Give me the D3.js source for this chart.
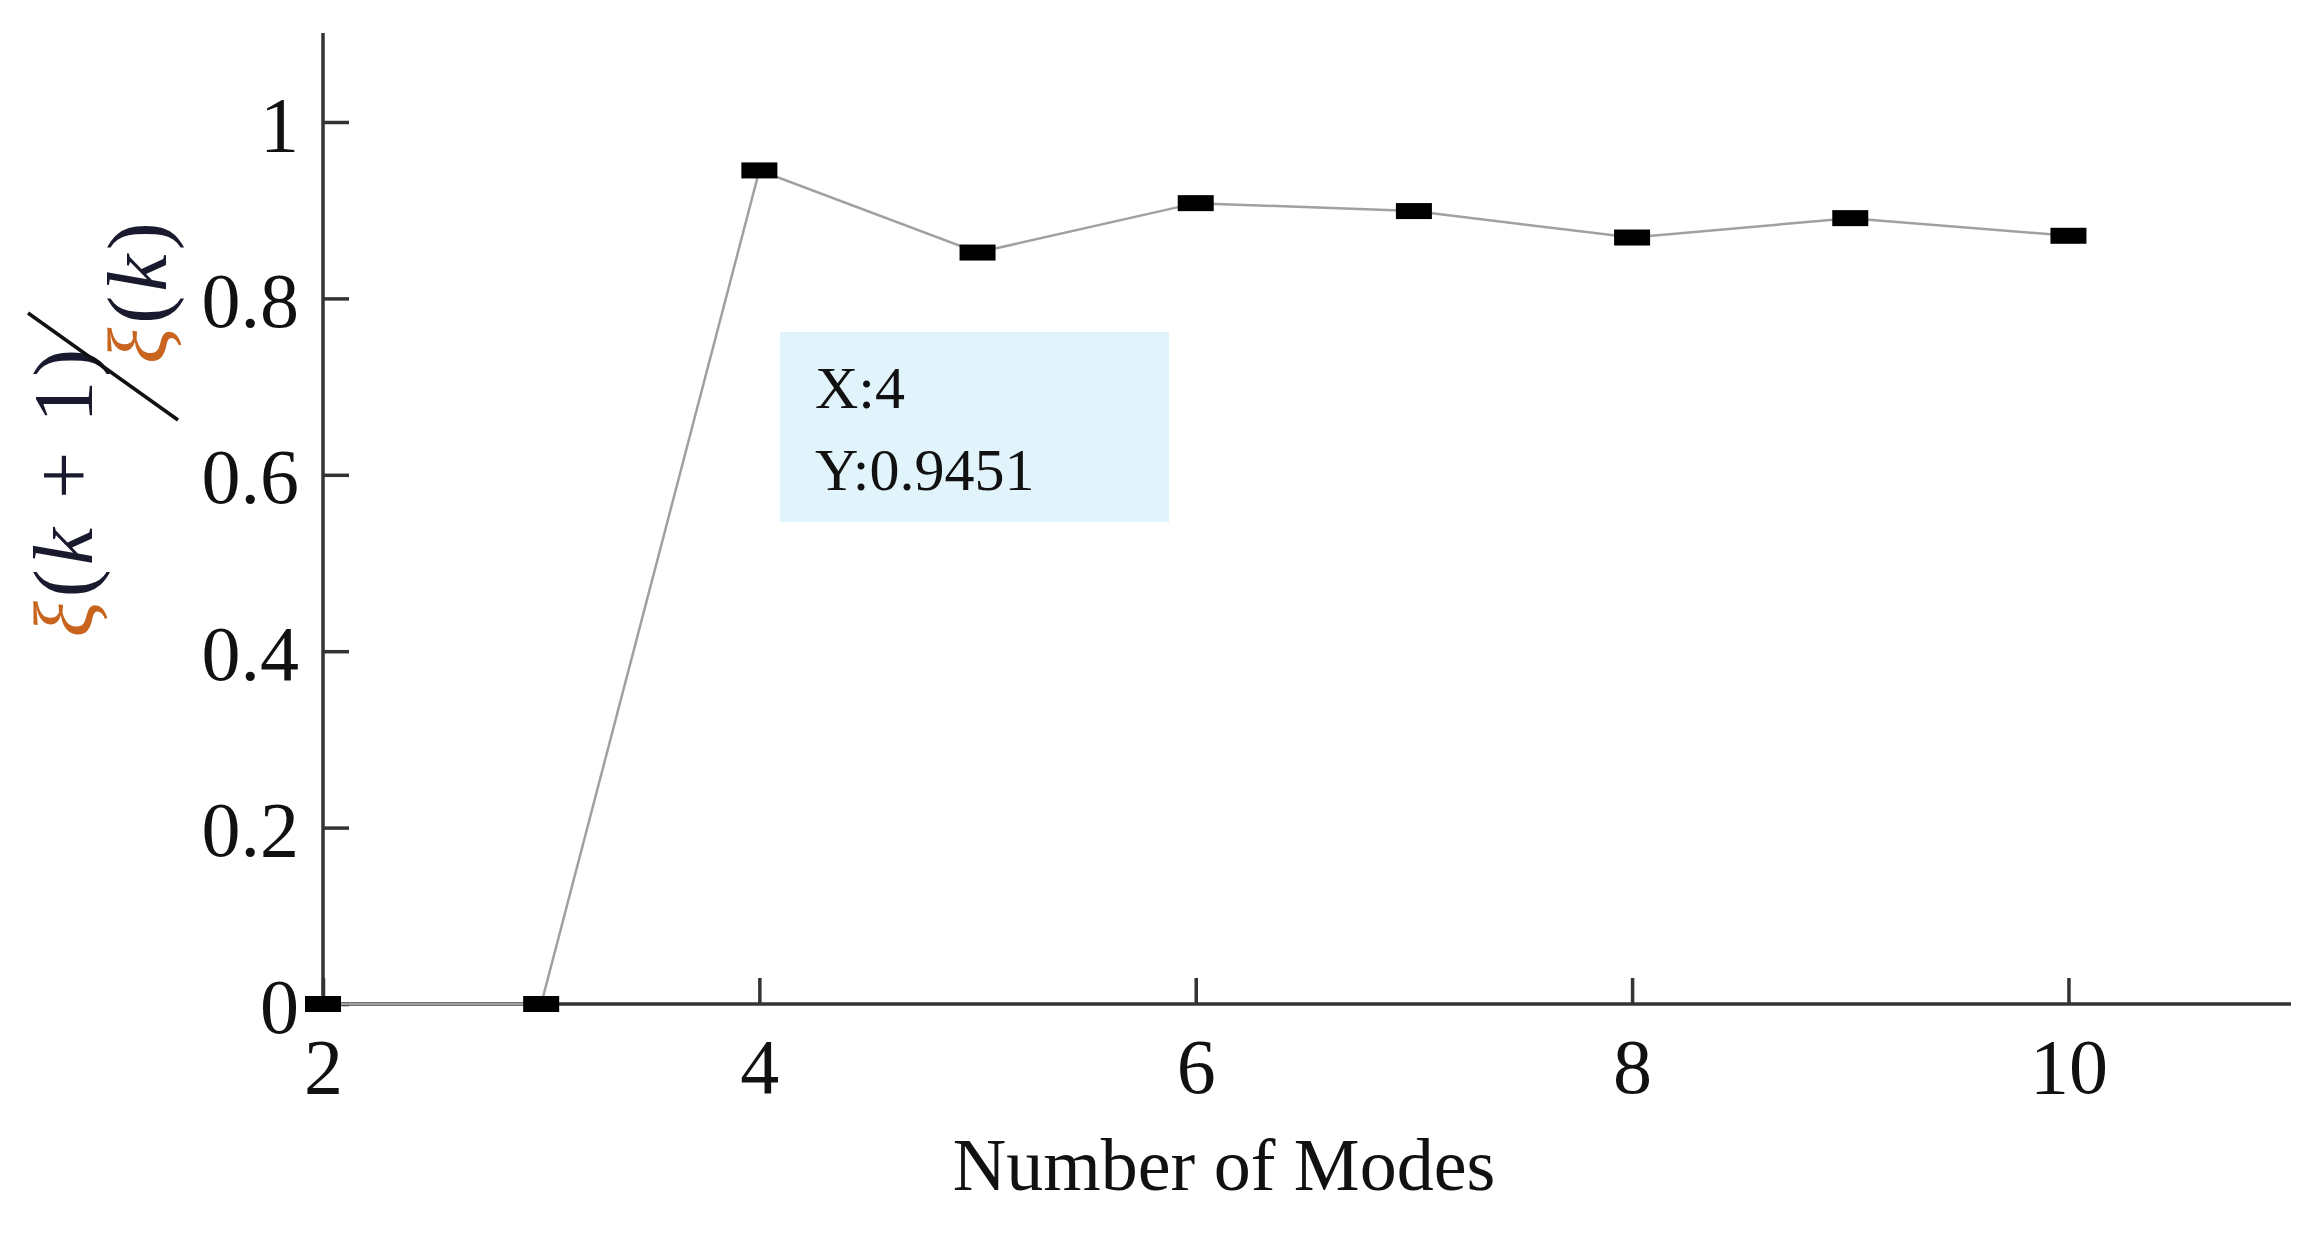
<!DOCTYPE html>
<html><head><meta charset="utf-8">
<script src="https://cdn.jsdelivr.net/npm/d3@7"></script>
<style>body{margin:0;background:#fff}</style></head>
<body><svg id="c" width="2313" height="1233"></svg>
<script>
const modes = [2,3,4,5,6,7,8,9,10];
const ratios = [0,0,0.9451,0.852,0.908,0.899,0.869,0.891,0.871];
const xTicks = [2,4,6,8,10];
const yTicks = [0,0.2,0.4,0.6,0.8,1];
const tipX = "X:4", tipY = "Y:0.9451";

const svg = d3.select("#c");
const font = "Liberation Serif, Times New Roman, serif";
const x = d3.scaleLinear().domain([2,11.02]).range([323,2291]);
const y = d3.scaleLinear().domain([0,1]).range([1004,122]);

const gx = svg.append("g").attr("transform",`translate(0,${y(0)})`)
  .call(d3.axisBottom(x).tickValues(xTicks).tickSize(-26).tickPadding(30).tickFormat(d3.format("d")));
const gy = svg.append("g").attr("transform",`translate(${x(2)},0)`)
  .call(d3.axisLeft(y).tickValues(yTicks).tickSize(-26).tickPadding(24).tickFormat(d=>d===0||d===1?d:d.toFixed(1)));
gx.select(".domain").attr("d",`M${x(2)},0H2291`);
gy.select(".domain").attr("d",`M0,${y(0)}V33`);
[gx,gy].forEach(g=>{
  g.selectAll("path,line").attr("stroke","#333").attr("stroke-width",3.5);
  g.selectAll("text").attr("font-family",font).attr("font-size",78).attr("fill","#111");
});
gx.selectAll("text").attr("dy","0.75em");
gy.selectAll("text").attr("dy","0.36em");

svg.append("path").datum(modes.map((m,i)=>[m,ratios[i]]))
  .attr("d",d3.line().x(d=>x(d[0])).y(d=>y(d[1])))
  .attr("fill","none").attr("stroke","#a0a0a0").attr("stroke-width",2.5);
svg.selectAll("rect.m").data(modes.map((m,i)=>[m,ratios[i]])).join("rect")
  .attr("x",d=>x(d[0])-18).attr("y",d=>y(d[1])-8).attr("width",36).attr("height",16)
  .attr("fill","#000");

svg.append("rect").attr("x",780).attr("y",332).attr("width",389).attr("height",190).attr("fill","#e1f4fb");
svg.append("text").attr("x",815).attr("y",408).attr("font-family",font).attr("font-size",60).attr("fill","#111").text(tipX);
svg.append("text").attr("x",815).attr("y",490).attr("font-family",font).attr("font-size",60).attr("fill","#111").text(tipY);

svg.append("text").attr("x",1224).attr("y",1190).attr("text-anchor","middle")
  .attr("font-family",font).attr("font-size",74).attr("fill","#111").text("Number of Modes");

const num = svg.append("text").attr("transform","translate(92,491) rotate(-90)").attr("text-anchor","middle")
  .attr("font-family",font).attr("font-size",84).attr("letter-spacing",4).attr("fill","#1a1a2e");
num.append("tspan").attr("font-style","italic").attr("fill","#c8641e").text("ξ");
num.append("tspan").text("(");
num.append("tspan").attr("font-style","italic").text("k");
num.append("tspan").text(" + 1)");
const den = svg.append("text").attr("transform","translate(166,291) rotate(-90)").attr("text-anchor","middle")
  .attr("font-family",font).attr("font-size",84).attr("letter-spacing",4).attr("fill","#1a1a2e");
den.append("tspan").attr("font-style","italic").attr("fill","#c8641e").text("ξ");
den.append("tspan").text("(");
den.append("tspan").attr("font-style","italic").text("k");
den.append("tspan").text(")");
svg.append("line").attr("x1",28).attr("y1",313).attr("x2",178).attr("y2",420)
  .attr("stroke","#111").attr("stroke-width",3.5);
</script></body></html>
